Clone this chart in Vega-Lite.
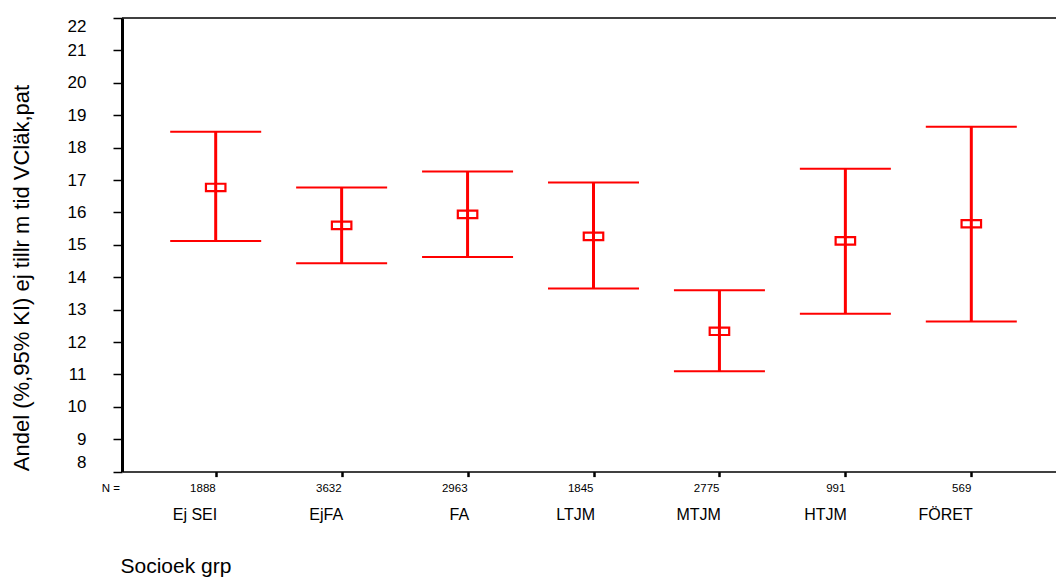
{
  "$schema": "https://vega.github.io/schema/vega-lite/v6.json",
  "width": 934,
  "height": 453.6,
  "autosize": {"type": "none"},
  "padding": {"left": 122, "top": 18, "right": 0, "bottom": 107.4},
  "background": "white",
  "config": {
    "view": {"stroke": null},
    "font": "Liberation Sans"
  },
  "data": {
    "values": [
      {"grp": "Ej SEI", "n": 1888, "mean": 16.77, "lo": 15.12, "hi": 18.49},
      {"grp": "EjFA", "n": 3632, "mean": 15.60, "lo": 14.43, "hi": 16.77},
      {"grp": "FA", "n": 2963, "mean": 15.94, "lo": 14.62, "hi": 17.26},
      {"grp": "LTJM", "n": 1845, "mean": 15.26, "lo": 13.65, "hi": 16.92},
      {"grp": "MTJM", "n": 2775, "mean": 12.33, "lo": 11.10, "hi": 13.60},
      {"grp": "HTJM", "n": 991, "mean": 15.12, "lo": 12.87, "hi": 17.35},
      {"grp": "FÖRET", "n": 569, "mean": 15.65, "lo": 12.63, "hi": 18.64}
    ]
  },
  "layer": [
    {
      "encoding": {
        "x": {
          "field": "grp",
          "type": "nominal",
          "sort": null,
          "scale": {
            "type": "point",
            "domain": ["Ej SEI", "EjFA", "FA", "LTJM", "MTJM", "HTJM", "FÖRET"],
            "range": [0, 943],
            "padding": 0.744
          },
          "axis": {
            "domainColor": "black",
            "domainWidth": 1.5,
            "tickColor": "black",
            "tickWidth": 2.5,
            "tickSize": 5,
            "labelFontSize": 16,
            "labelAlign": "right",
            "labelBaseline": "alphabetic",
            "labelPadding": 42.7,
            "labelOffset": 1,
            "labelAngle": 0,
            "labelColor": "black",
            "labelOverlap": false,
            "grid": false,
            "title": "Socioek grp",
            "titleFontSize": 21,
            "titleFontWeight": "normal",
            "titleColor": "black",
            "titleAnchor": "start",
            "titleAlign": "left",
            "titleX": -2,
            "titleY": 100.7,
            "titleBaseline": "alphabetic"
          }
        }
      },
      "layer": [
        {
          "mark": {"type": "rule", "color": "#ff0000", "strokeWidth": 3},
          "encoding": {
            "y": {
              "field": "lo",
              "type": "quantitative",
              "scale": {"domain": [8, 22], "nice": false, "zero": false},
              "axis": {
                "values": [8, 9, 10, 11, 12, 13, 14, 15, 16, 17, 18, 19, 20, 21, 22],
                "tickCount": 30,
                "format": "d",
                "domainColor": "black",
                "domainWidth": 3,
                "tickColor": "black",
                "tickWidth": 1.5,
                "tickSize": 9,
                "labelFontSize": 17,
                "labelPadding": 27,
                "labelColor": "black",
                "labelFlush": true,
                "labelOverlap": false,
                "labelBound": false,
                "grid": false,
                "title": "Andel (%,95% KI) ej tillr m tid VCläk,pat",
                "titleFontSize": 22,
                "titleFontWeight": "normal",
                "titleColor": "black",
                "titleX": -94,
                "titleY": 259.5,
                "titleAngle": -90,
                "titleAlign": "center",
                "titleBaseline": "alphabetic"
              }
            },
            "y2": {"field": "hi"}
          }
        },
        {
          "mark": {"type": "tick", "color": "#ff0000", "thickness": 2, "size": 91, "opacity": 1},
          "encoding": {"y": {"field": "lo", "type": "quantitative"}}
        },
        {
          "mark": {"type": "tick", "color": "#ff0000", "thickness": 2, "size": 91, "opacity": 1},
          "encoding": {"y": {"field": "hi", "type": "quantitative"}}
        },
        {
          "mark": {"type": "point", "shape": "M-1,-0.38H1V0.38H-1Z", "size": 380, "filled": false, "color": "#ff0000", "strokeWidth": 2.2, "opacity": 1},
          "encoding": {"y": {"field": "mean", "type": "quantitative"}}
        },
        {
          "mark": {"type": "text", "align": "right", "baseline": "alphabetic", "dy": 20.7, "fontSize": 11.5, "color": "black"},
          "encoding": {"y": {"datum": 8}, "text": {"field": "n", "type": "nominal"}}
        }
      ]
    },
    {
      "data": {"values": [{"t": "N ="}]},
      "mark": {"type": "text", "align": "right", "baseline": "alphabetic", "dy": 20.7, "dx": -2, "fontSize": 11.5, "color": "black"},
      "encoding": {"x": {"value": 0}, "y": {"datum": 8}, "text": {"field": "t", "type": "nominal"}}
    },
    {
      "data": {"values": [{"t": "top"}]},
      "mark": {"type": "rule", "color": "black", "strokeWidth": 1.5},
      "encoding": {"y": {"datum": 22}}
    }
  ]
}
